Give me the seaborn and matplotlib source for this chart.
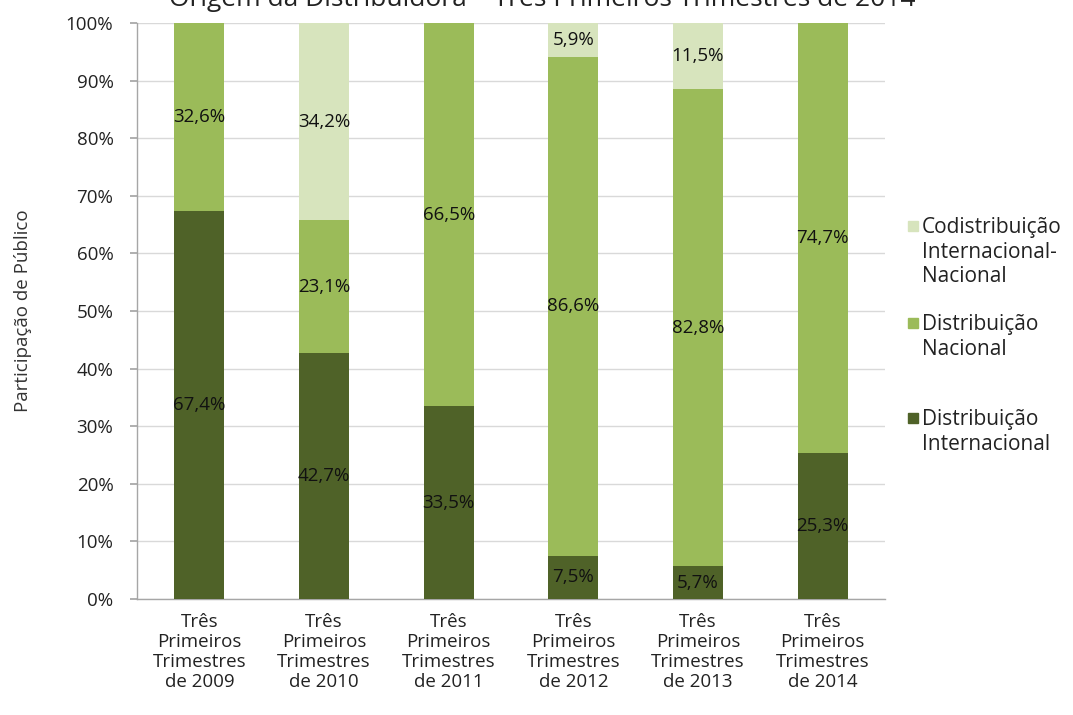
import matplotlib
matplotlib.use("Agg")
import matplotlib.pyplot as plt
import matplotlib.patches as mpatches
import numpy as np
import pandas as pd
import seaborn as sns

periods = ["Três\nPrimeiros\nTrimestres\nde 2009", "Três\nPrimeiros\nTrimestres\nde 2010",
           "Três\nPrimeiros\nTrimestres\nde 2011", "Três\nPrimeiros\nTrimestres\nde 2012",
           "Três\nPrimeiros\nTrimestres\nde 2013", "Três\nPrimeiros\nTrimestres\nde 2014"]
internacional = [67.4, 42.7, 33.5, 7.5, 5.7, 25.3]
nacional = [32.6, 23.1, 66.5, 86.6, 82.8, 74.7]
codistribuicao = [0.0, 34.2, 0.0, 5.9, 11.5, 0.0]

series_names = ["Codistribuição\nInternacional-\nNacional", "Distribuição\nNacional",
                "Distribuição\nInternacional"]
colors = {"int": "#4F6228", "nac": "#9BBB59", "co": "#D7E4BD"}

sns.set_theme(style="white")
plt.rcParams["font.family"] = ["Open Sans", "DejaVu Sans"]

df = pd.DataFrame({"periodo": periods, "int": internacional, "nac": nacional, "co": codistribuicao})
df["top_nac"] = df["int"] + df["nac"]
df["top_co"] = df["top_nac"] + df["co"]

W, H = 1073, 715
fig = plt.figure(figsize=(W / 100, H / 100), dpi=100)
ax = fig.add_axes([0.1277, 0.1622, 0.6971, 0.8056])

# stacked bars drawn back to front from cumulative totals
for col, key in [("top_co", "co"), ("top_nac", "nac"), ("int", "int")]:
    sns.barplot(data=df, x="periodo", y=col, color=colors[key], width=0.4,
                saturation=1, linewidth=0, edgecolor="none", ax=ax, zorder=3)

# segment value labels
txt_kw = dict(ha="center", va="center", fontsize=13.5, color="#111111", zorder=5)
for i in range(len(periods)):
    segs = [(0, internacional[i]), (internacional[i], nacional[i]),
            (internacional[i] + nacional[i], codistribuicao[i])]
    for base, val in segs:
        if val > 0:
            ax.text(i, base + val / 2, f"{val:.1f}%".replace(".", ","), **txt_kw)

ax.set_ylim(0, 100)
ax.set_xlim(-0.5, len(periods) - 0.5)
ax.set_yticks(np.arange(0, 101, 10))
ax.set_yticklabels([f"{v}%" for v in range(0, 101, 10)], fontsize=13.5, color="#222222")
ax.yaxis.grid(True, color="#D9D9D9", linewidth=1, zorder=0)
ax.set_axisbelow(True)

ax.set_xticks(range(len(periods)))
ax.set_xticklabels(periods, fontsize=13.5, color="#222222", linespacing=1.15)
ax.set_xticks(np.arange(-0.5, len(periods), 1.0), minor=True)
ax.tick_params(axis="x", which="major", length=0, pad=10)
ax.tick_params(axis="x", which="minor", length=6, color="#A6A6A6", direction="out")
ax.tick_params(axis="y", length=5, color="#A6A6A6", direction="out", left=True, pad=12)

for side in ["top", "right"]:
    ax.spines[side].set_visible(False)
for side in ["left", "bottom"]:
    ax.spines[side].set_color("#A6A6A6")
    ax.spines[side].set_linewidth(1)

ax.set_xlabel("")
ax.set_ylabel("Participação de Público", fontsize=13.5, color="#333333", labelpad=24)

# legend: square marker aligned with the first line of each entry
legend_rows = [(series_names[0], colors["co"], 226), (series_names[1], colors["nac"], 323),
               (series_names[2], colors["int"], 418)]
sq = 10
for label, c, y_px in legend_rows:
    fig.add_artist(mpatches.Rectangle((908 / W, 1 - (y_px + sq / 2) / H), sq / W, sq / H,
                                      transform=fig.transFigure, color=c))
    fig.text(922 / W, 1 - (y_px - 9) / H, label, ha="left", va="top", fontsize=15,
             color="#222222", linespacing=1.23)

fig.text(0.505, 1.0, "Origem da Distribuidora – Três Primeiros Trimestres de 2014",
         ha="center", va="center", fontsize=19, color="#222222")

fig.savefig("out.png", dpi=100)
